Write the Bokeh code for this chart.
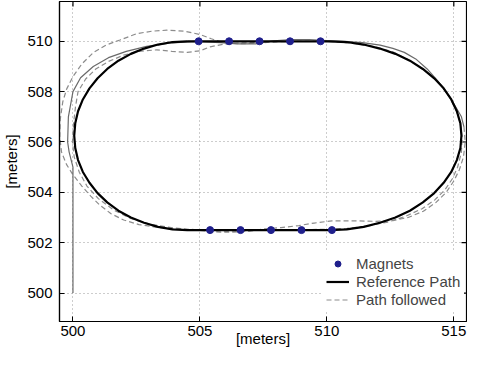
import math
from bokeh.plotting import figure
from bokeh.models import Range1d, FixedTicker, Legend, LegendItem
from bokeh.embed import file_html
from bokeh.resources import INLINE

x_ticks = [500, 505, 510, 515]
y_ticks = [500, 502, 504, 506, 508, 510]

magnets_top_x = [504.95, 506.15, 507.35, 508.55, 509.75]
magnets_top_y = [510.0, 510.0, 510.0, 510.0, 510.0]
magnets_bottom_x = [505.4, 506.6, 507.8, 509.0, 510.2]
magnets_bottom_y = [502.5, 502.5, 502.5, 502.5, 502.5]

ref_x = [504.50, 510.10, 510.78, 511.45, 512.09, 512.70, 513.27, 513.78, 514.23, 514.60, 514.90,
         515.12, 515.26, 515.30, 515.26, 515.12, 514.90, 514.60, 514.23, 513.78, 513.27, 512.70,
         512.09, 511.45, 510.78, 510.10, 504.50, 503.92, 503.35, 502.80, 502.28, 501.79, 501.35,
         500.97, 500.65, 500.39, 500.20, 500.09, 500.05, 500.09, 500.20, 500.39, 500.65, 500.97,
         501.35, 501.79, 502.28, 502.80, 503.35, 503.92, 504.50]
ref_y = [510.00, 510.00, 509.97, 509.87, 509.71, 509.50, 509.23, 508.90, 508.53, 508.13, 507.69,
         507.22, 506.74, 506.25, 505.76, 505.28, 504.81, 504.38, 503.97, 503.60, 503.27, 503.00,
         502.79, 502.63, 502.53, 502.50, 502.50, 502.53, 502.63, 502.79, 503.00, 503.27, 503.60,
         503.97, 504.38, 504.81, 505.28, 505.76, 506.25, 506.74, 507.22, 507.69, 508.13, 508.53,
         508.90, 509.23, 509.50, 509.71, 509.87, 509.97, 510.00]

# path followed, first part (renders solid)
follow_a_x = [500.0, 500.0, 500.0, 500.0, 499.85, 499.79, 499.82, 500.0, 500.3, 500.8, 501.4,
              502.1, 502.9, 503.8, 504.8, 505.8, 506.5, 507.2, 507.9, 508.6, 509.3, 510.0,
              510.7, 511.4, 512.1, 512.6, 513.05, 513.5, 513.95, 514.35, 514.65, 514.9, 515.1,
              515.3, 515.4]
follow_a_y = [500.0, 502.0, 504.0, 505.0, 505.6, 506.0, 507.0, 508.0, 508.55, 509.0, 509.35,
              509.6, 509.8, 509.93, 510.0, 509.95, 509.9, 509.9, 510.02, 510.07, 510.07, 510.03,
              510.0, 509.95, 509.85, 509.72, 509.56, 509.3, 508.9, 508.45, 508.05, 507.7, 507.35,
              507.0, 506.6]

# path followed, remainder (dashed)
follow_b_x = [515.4, 515.45, 515.38, 515.22, 515.0, 514.7, 514.3, 513.8, 513.2, 512.6, 511.9,
              511.0, 510.2, 509.5, 508.9, 508.2, 507.55, 506.9, 506.3, 505.8, 505.2, 504.55,
              503.9, 503.25, 502.6, 502.0, 501.5, 501.05, 500.7, 500.35, 500.0, 499.75, 499.55,
              499.48, 499.5, 499.6, 499.75, 500.0, 500.35, 500.8, 501.3, 501.85, 502.5, 503.1,
              503.7, 504.4, 505.0, 505.45, 505.9, 506.5, 507.2, 508.0, 508.8, 509.6, 510.4,
              511.2, 511.9, 512.6, 513.2, 513.7, 514.15, 514.55, 514.85, 515.1, 515.25, 515.33,
              515.3, 515.15, 514.95, 514.65, 514.25, 513.75, 513.1, 512.4, 511.6, 510.8, 510.0,
              509.0, 508.0, 507.0, 506.0, 505.0, 504.0, 503.1, 502.3, 501.6, 501.0, 500.55,
              500.25, 500.05, 499.98, 500.02, 500.1, 500.2, 500.5, 500.9, 501.4, 502.0, 502.6,
              503.3, 503.9, 504.5, 505.0, 505.4, 505.9, 506.5, 507.2]
follow_b_y = [506.6, 506.0, 505.4, 504.9, 504.45, 504.0, 503.6, 503.25, 503.0, 502.88, 502.85,
              502.87, 502.87, 502.78, 502.68, 502.6, 502.55, 502.45, 502.42, 502.42, 502.47, 502.52,
              502.56, 502.62, 502.72, 502.9, 503.15, 503.5, 503.85, 504.25, 504.7, 505.1, 505.6,
              506.2, 506.9, 507.6, 508.1, 508.6, 509.1, 509.55, 509.85, 510.05, 510.3, 510.4,
              510.44, 510.4, 510.27, 510.1, 509.95, 509.9, 509.92, 509.98, 510.0, 510.0, 509.98,
              509.9, 509.78, 509.58, 509.27, 508.95, 508.6, 508.2, 507.75, 507.25, 506.75, 506.2,
              505.6, 505.0, 504.55, 504.1, 503.7, 503.35, 503.05, 502.82, 502.66, 502.57, 502.53,
              502.52, 502.5, 502.48, 502.47, 502.5, 502.58, 502.72, 502.95, 503.3, 503.75, 504.25,
              504.8, 505.4, 506.0, 506.7, 507.4, 508.0, 508.5, 508.9, 509.2, 509.45, 509.6,
              509.66, 509.6, 509.56, 509.62, 509.78, 509.88, 509.93, 509.95]

FONT = "Liberation Sans"
FS = "15px"
X0, X1 = 499.47, 515.5
Y0, Y1 = 498.87, 511.58

p = figure(width=467, height=349, output_backend="svg", toolbar_location=None,
           x_range=Range1d(X0, X1), y_range=Range1d(Y0, Y1),
           min_border_left=55, min_border_right=1, min_border_top=1, min_border_bottom=10,
           x_axis_label="[meters]", y_axis_label="[meters]")
p.background_fill_color = "white"
p.border_fill_color = "white"
p.outline_line_color = "black"
p.outline_line_width = 1.2

xt = FixedTicker(ticks=x_ticks)
yt = FixedTicker(ticks=y_ticks)
for ax, tk in ((p.below[0], xt), (p.left[0], yt)):
    ax.ticker = tk
    ax.major_tick_in = 5
    ax.major_tick_out = 0
    ax.minor_tick_line_color = None
    ax.axis_line_color = "black"
    ax.axis_line_width = 1.2
    ax.major_label_text_font = FONT
    ax.major_label_text_font_size = FS
    ax.major_label_text_color = "black"
    ax.axis_label_text_font = FONT
    ax.axis_label_text_font_size = FS
    ax.axis_label_text_font_style = "normal"
    ax.axis_label_text_color = "black"
p.below[0].major_label_standoff = 4
p.below[0].axis_label_standoff = -9
p.left[0].major_label_standoff = 7
p.left[0].axis_label_standoff = 4

for g, tk in ((p.xgrid[0], xt), (p.ygrid[0], yt)):
    g.ticker = tk
    g.grid_line_color = "#9a9a9a"
    g.grid_line_dash = "1 3"
    g.grid_line_width = 1

# inward ticks on top and right edges of the box
p.ray(x=x_ticks, y=[Y1] * len(x_ticks), length=5, length_units="screen",
      angle=-math.pi / 2, line_color="black", line_width=1.2)
p.ray(x=[X1] * len(y_ticks), y=y_ticks, length=5, length_units="screen",
      angle=math.pi, line_color="black", line_width=1.2)

r_b = p.line(follow_b_x, follow_b_y, line_color="#8c8c8c", line_width=1.2, line_dash="5 3")
r_a = p.line(follow_a_x, follow_a_y, line_color="#6a6a6a", line_width=1.2)
r_ref = p.line(ref_x, ref_y, line_color="black", line_width=2.2)
r_mag = p.scatter(magnets_top_x + magnets_bottom_x, magnets_top_y + magnets_bottom_y,
                  size=7, fill_color="#1f1f8c", line_color="#1f1f8c")

legend = Legend(items=[LegendItem(label="Magnets", renderers=[r_mag]),
                       LegendItem(label="Reference Path", renderers=[r_ref]),
                       LegendItem(label="Path followed", renderers=[r_b])],
                location=(263, 9), border_line_alpha=0, background_fill_color="white",
                background_fill_alpha=1, padding=4, margin=0, spacing=1,
                label_height=15, glyph_height=15, glyph_width=23, label_standoff=7,
                label_text_font=FONT, label_text_font_size=FS)
p.add_layout(legend)

open("out.html", "w").write(file_html(p, INLINE))
